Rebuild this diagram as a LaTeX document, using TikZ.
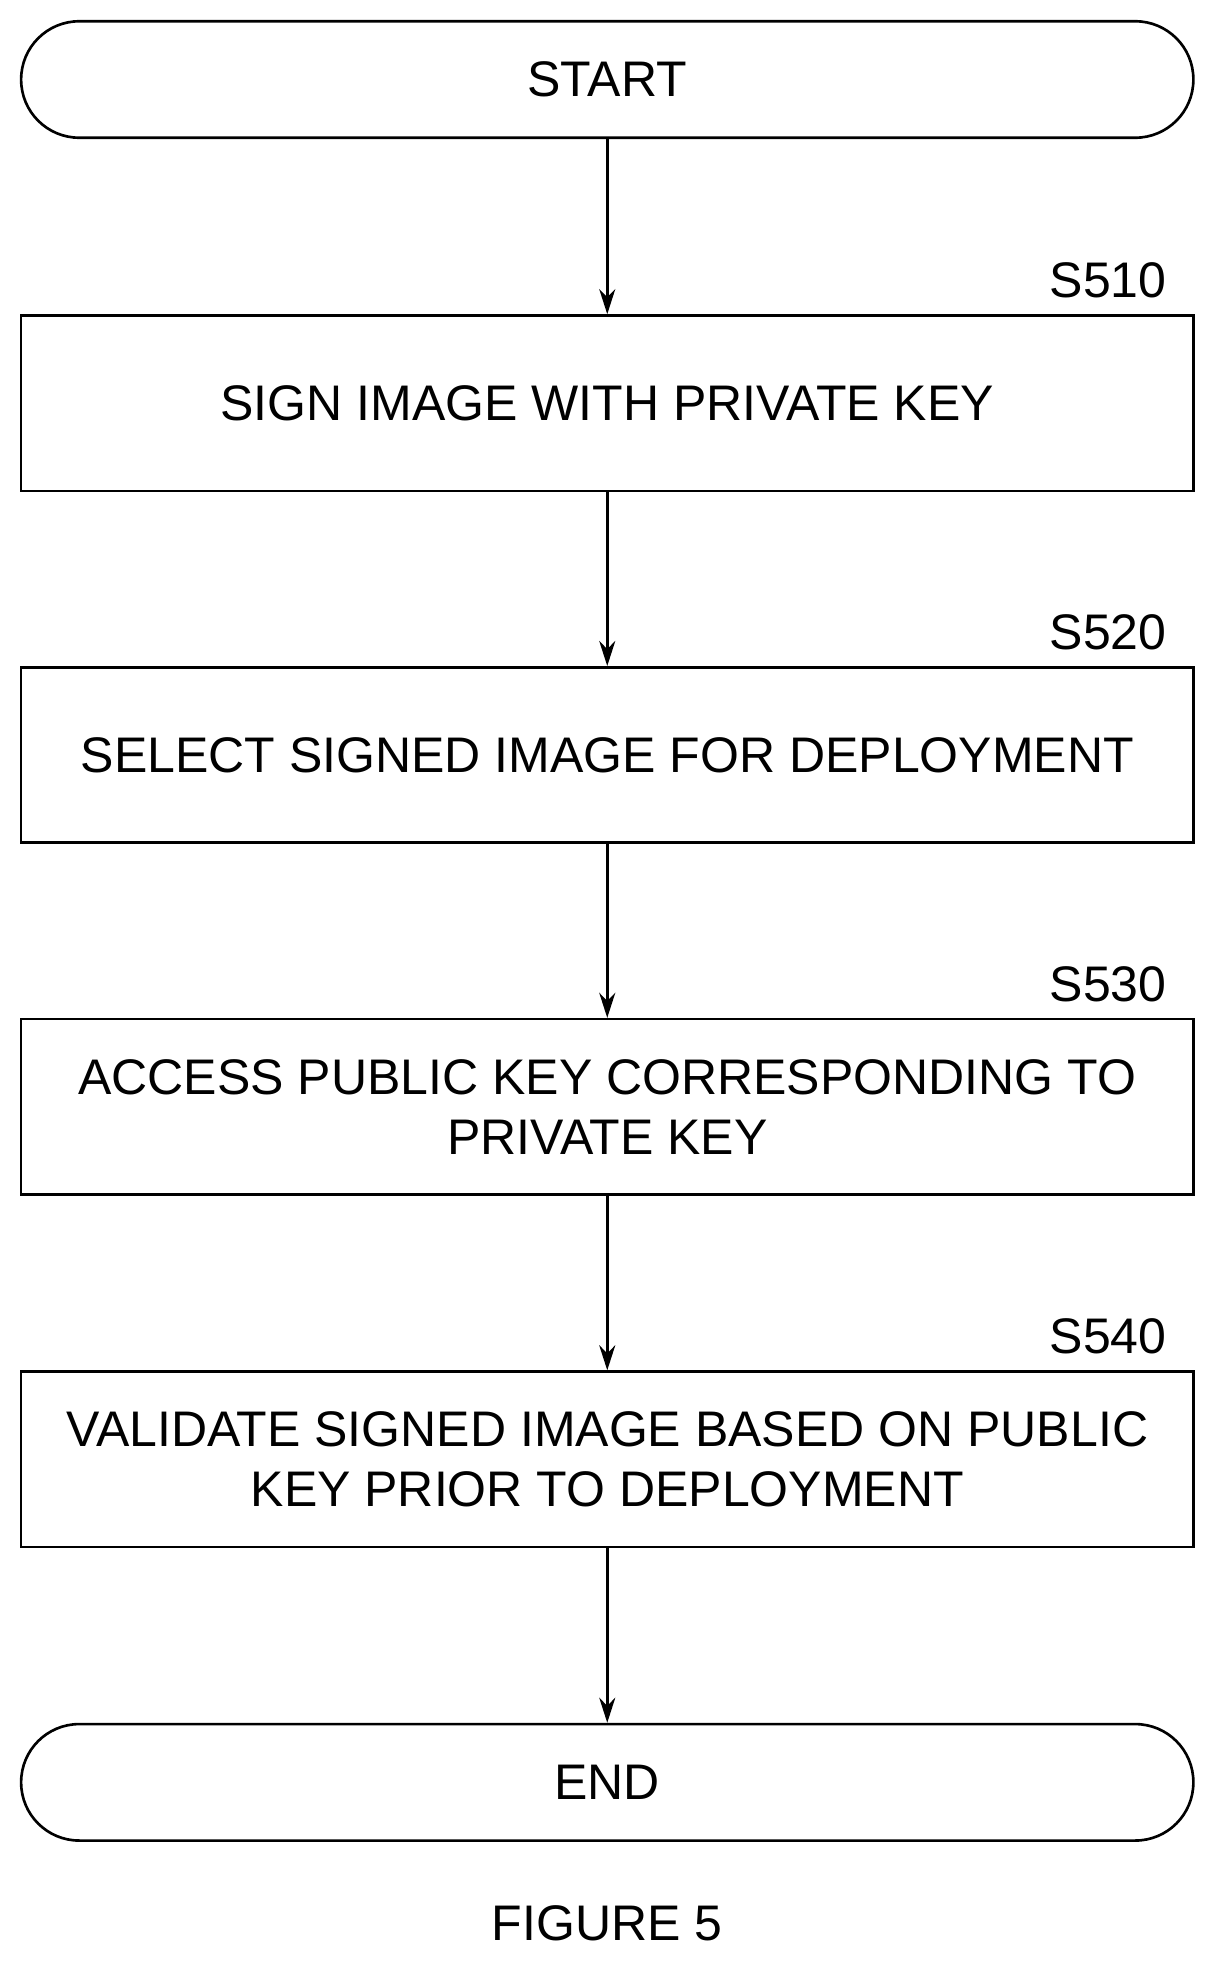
\documentclass[tikz,border=0pt]{standalone}
\usepackage{fontspec}
\setmainfont{Liberation Sans}
\usetikzlibrary{arrows.meta}
\begin{document}
\begin{tikzpicture}[x=0.025cm,y=-0.025cm,
  every node/.style={font=\fontsize{28.4}{34}\selectfont},
  stepbox/.style={draw,line width=1.5pt,minimum width=23.4cm,minimum height=3.5cm,align=center,inner sep=0pt},
  term/.style={draw,line width=1.5pt,minimum width=23.4cm,minimum height=2.325cm,rounded corners=1.16cm,inner sep=0pt},
  lbl/.style={anchor=base},
  arr/.style={line width=1.5pt,-{Stealth[length=0.5cm,width=0.32cm]}}]
\useasboundingbox (0,0) rectangle (975,1575);
\node[term] (start) at (485,63.5) {START};
\node[stepbox] (s1) at (485,322) {SIGN IMAGE WITH PRIVATE KEY};
\node[stepbox] (s2) at (485,603) {SELECT SIGNED IMAGE FOR DEPLOYMENT};
\node[stepbox] (s3) at (485,884) {ACCESS PUBLIC KEY CORRESPONDING TO\\PRIVATE KEY};
\node[stepbox] (s4) at (485,1165.5) {VALIDATE SIGNED IMAGE BASED ON PUBLIC\\KEY PRIOR TO DEPLOYMENT};
\node[term] (end) at (485,1423.5) {END};
\node[lbl] (l1) at (885,238) {S510};
\node[lbl] (l2) at (885,519) {S520};
\node[lbl] (l3) at (885,800) {S530};
\node[lbl] (l4) at (885,1081) {S540};
\node[lbl] (fig) at (485,1550) {FIGURE 5};
\draw[arr] (start) -- (s1);
\draw[arr] (s1) -- (s2);
\draw[arr] (s2) -- (s3);
\draw[arr] (s3) -- (s4);
\draw[arr] (s4) -- (end);
\end{tikzpicture}
\end{document}
